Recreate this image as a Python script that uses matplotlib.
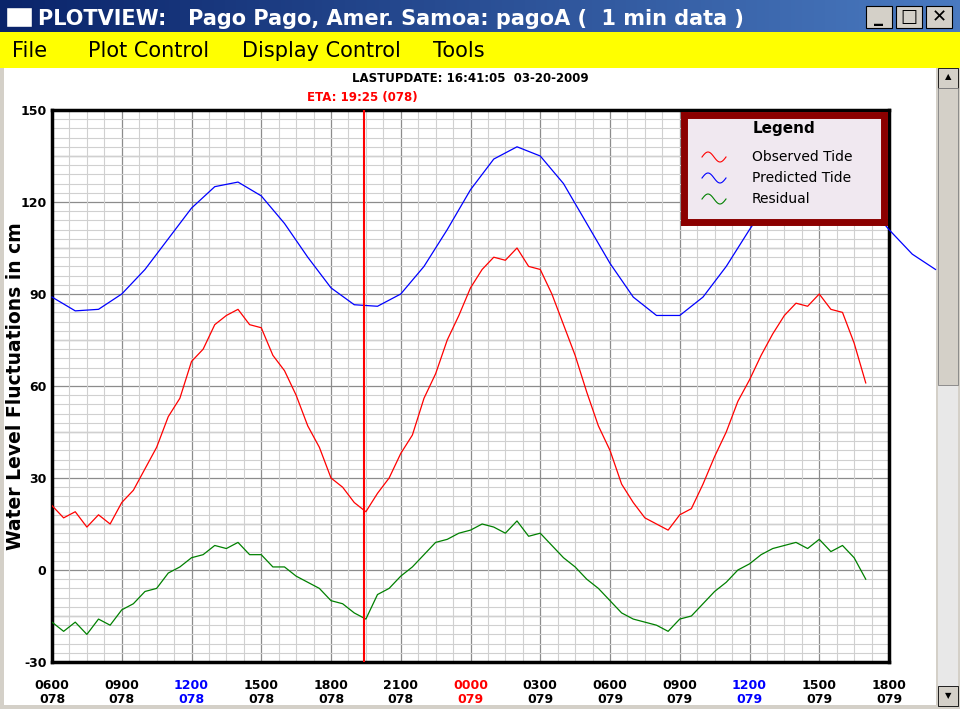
import matplotlib
matplotlib.use("Agg")
import matplotlib.pyplot as plt
import numpy as np
from matplotlib.patches import Rectangle

# hours after 0600 day 078
pred_hours = list(range(0, 39))
predicted = [89, 84.5, 85, 90, 98, 108, 118, 125, 126.5, 122, 113, 102, 92, 86.5, 86, 90,
             99, 111, 124, 134, 138, 135, 126, 113, 100, 89, 83, 83, 89, 99, 111, 122,
             130, 132, 128, 120, 111, 103, 98]

obs_hours = [i * 0.5 for i in range(71)]
observed = [21, 17, 19, 14, 18, 15, 22, 26, 33, 40, 50, 56, 68, 72, 80, 83, 85, 80, 79, 70,
            65, 57, 47, 40, 30, 27, 22, 19, 25, 30, 38, 44, 56, 64, 75, 83, 92, 98, 102, 101,
            105, 99, 98, 90, 80, 70, 58, 47, 39, 28, 22, 17, 15, 13, 18, 20, 28, 37, 45, 55,
            62, 70, 77, 83, 87, 86, 90, 85, 84, 74, 61]
residual = [-17, -20, -17, -21, -16, -18, -13, -11, -7, -6, -1, 1, 4, 5, 8, 7, 9, 5, 5, 1,
            1, -2, -4, -6, -10, -11, -14, -16, -8, -6, -2, 1, 5, 9, 10, 12, 13, 15, 14, 12,
            16, 11, 12, 8, 4, 1, -3, -6, -10, -14, -16, -17, -18, -20, -16, -15, -11, -7, -4, 0,
            2, 5, 7, 8, 9, 7, 10, 6, 8, 4, -3]

tick_hours = list(range(0, 37, 3))
tick_times = ["0600", "0900", "1200", "1500", "1800", "2100", "0000", "0300", "0600",
              "0900", "1200", "1500", "1800"]
tick_days = ["078"] * 6 + ["079"] * 7
tick_colors = ["black", "black", "blue", "black", "black", "black", "red", "black", "black",
               "black", "blue", "black", "black"]
eta_hour = 13.42

W, H = 960, 709
fig = plt.figure(figsize=(9.6, 7.09), dpi=100)
fig.patch.set_facecolor("white")

def px(x, y, w, h):
    return [x / W, 1 - (y + h) / H, w / W, h / H]

def frect(x, y, w, h, z=2, **kw):
    r = px(x, y, w, h)
    fig.patches.append(Rectangle((r[0], r[1]), r[2], r[3], transform=fig.transFigure,
                                 zorder=z, **kw))

# window frame, title bar, menu bar
frect(0, 0, W, H, z=-10, facecolor="#d4d0c8", edgecolor="none")
frect(4, 68, 932, 637, z=-9, facecolor="white", edgecolor="none")
grad = np.linspace(0, 1, 256).reshape(1, -1)
tax = fig.add_axes(px(0, 0, W, 32))
tax.imshow(grad, aspect="auto", cmap=matplotlib.colors.LinearSegmentedColormap.from_list(
    "t", ["#0a246a", "#4a7ac0"]), extent=[0, 1, 0, 1])
tax.axis("off")
fig.text(38 / W, 1 - 19 / H, "PLOTVIEW:   Pago Pago, Amer. Samoa: pagoA (  1 min data )",
         color="white", fontsize=15, fontweight="bold", va="center", zorder=5)
frect(6, 7, 26, 20, facecolor="white", edgecolor="#0a246a")
for i, s in enumerate(["_", "□", "✕"]):
    frect(866 + i * 30, 6, 26, 22, facecolor="#d4d0c8", edgecolor="black", linewidth=0.8)
    fig.text((879 + i * 30) / W, 1 - 17 / H, s, fontsize=13, fontweight="bold",
             ha="center", va="center", zorder=5)
frect(0, 32, W, 36, z=-8, facecolor="#ffff00", edgecolor="none")
for x, s in [(12, "File"), (88, "Plot Control"), (242, "Display Control"), (433, "Tools")]:
    fig.text(x / W, 1 - 51 / H, s, fontsize=15, va="center")

# scrollbar
frect(938, 68, 20, 637, facecolor="#e8e8e8", edgecolor="none")
frect(938, 68, 20, 20, facecolor="#d4d0c8", edgecolor="black", linewidth=0.6)
frect(938, 88, 20, 297, facecolor="#d4d0c8", edgecolor="#808080", linewidth=0.6)
frect(938, 686, 20, 20, facecolor="#d4d0c8", edgecolor="black", linewidth=0.6)
fig.text(948 / W, 1 - 77 / H, "▲", fontsize=6, ha="center", va="center", zorder=5)
fig.text(948 / W, 1 - 696 / H, "▼", fontsize=6, ha="center", va="center", zorder=5)

# main plot
ax = fig.add_axes(px(52, 110, 837, 552))
ax.set_xlim(0, 36)
ax.set_ylim(-30, 150)
ax.set_xticks(np.arange(0, 36.01, 0.75), minor=True)
ax.set_yticks(np.arange(-30, 150.1, 3), minor=True)
ax.set_yticks(range(-30, 151, 30))
ax.grid(True, which="minor", color="#d0d0d0", linewidth=0.8)
for y in range(-15, 150, 15):
    ax.axhline(y, color="#8c8c8c", linewidth=0.9, zorder=0.5)
for x in tick_hours:
    ax.axvline(x, color="#8c8c8c", linewidth=0.9, zorder=0.5)
ax.set_xticks(tick_hours)
ax.set_xticklabels([f"{t}\n{d}" for t, d in zip(tick_times, tick_days)],
                   fontsize=9, fontweight="bold", linespacing=1.1)
for lbl, c in zip(ax.get_xticklabels(), tick_colors):
    lbl.set_color(c)
ax.set_yticklabels([str(v) for v in range(-30, 151, 30)], fontsize=9, fontweight="bold")
ax.tick_params(which="both", length=0, pad=4)
ax.tick_params(axis="x", pad=12)
for sp in ax.spines.values():
    sp.set_linewidth(2.5)
fig.text(16 / W, 1 - 386 / H, "Water Level Fluctuations in cm", fontsize=13.5,
         fontweight="bold", rotation=90, ha="center", va="center")

ax.plot(pred_hours, predicted, color="blue", linewidth=0.9, zorder=3, clip_on=False)
ax.plot(obs_hours, observed, color="red", linewidth=0.9, zorder=3)
ax.plot(obs_hours, residual, color="green", linewidth=0.9, zorder=3)
ax.axvline(eta_hour, color="red", linewidth=1.5, zorder=4)

fig.text(470 / W, 1 - 79 / H, "LASTUPDATE: 16:41:05  03-20-2009", fontsize=8.5,
         fontweight="bold", ha="center", va="center")
fig.text(362 / W, 1 - 97 / H, "ETA: 19:25 (078)", fontsize=8.5, fontweight="bold",
         color="red", ha="center", va="center")

# legend box
lax = fig.add_axes(px(684, 115, 200, 107))
lax.set_xlim(0, 200)
lax.set_ylim(107, 0)
lax.set_facecolor("#f0e8f0")
for sp in lax.spines.values():
    sp.set_color("#8b0000")
    sp.set_linewidth(5)
lax.set_xticks([])
lax.set_yticks([])
lax.set_zorder(5)
lax.text(100, 14, "Legend", fontsize=11, fontweight="bold", ha="center", va="center")
wx = np.linspace(18, 42, 40)
for i, (name, c) in enumerate([("Observed Tide", "red"), ("Predicted Tide", "blue"),
                               ("Residual", "green")]):
    yc = 42 + i * 21
    lax.plot(wx, yc - 5 * np.sin((wx - 18) / 24 * 2 * np.pi), color=c, linewidth=0.8)
    lax.text(68, yc, name, fontsize=10, va="center")

fig.savefig("out.png", dpi=100)
